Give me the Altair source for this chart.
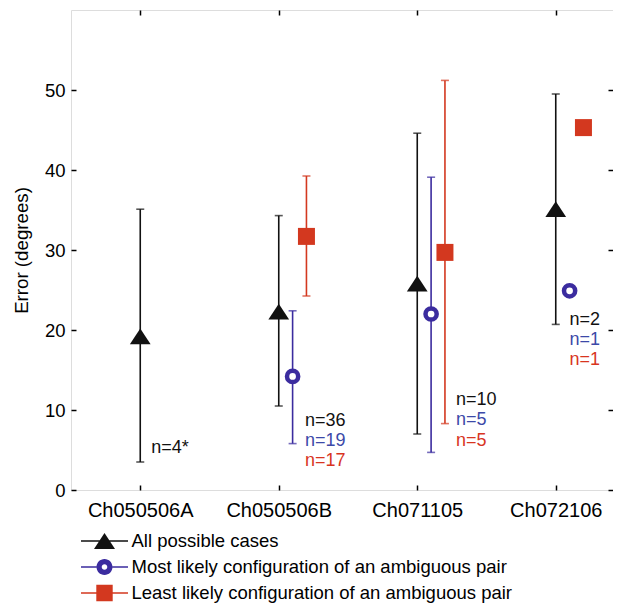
import json
import altair as alt
import pandas as pd

# ---------------- data ----------------
categories = ["Ch050506A", "Ch050506B", "Ch071105", "Ch072106"]
series_names = [
    "All possible cases",
    "Most likely configuration of an ambiguous pair",
    "Least likely configuration of an ambiguous pair",
]

all_mean = [19.2, 22.3, 25.8, 35.1]
all_low = [3.5, 10.5, 7.0, 20.7]
all_high = [35.1, 34.3, 44.6, 49.5]
all_n = ["n=4*", "n=36", "n=10", "n=2"]

most_mean = [None, 14.2, 22.0, 24.9]
most_low = [None, 5.8, 4.7, None]
most_high = [None, 22.4, 39.1, None]
most_n = [None, "n=19", "n=5", "n=1"]

least_mean = [None, 31.7, 29.7, 45.3]
least_low = [None, 24.25, 8.3, None]
least_high = [None, 39.25, 51.2, None]
least_n = [None, "n=17", "n=5", "n=1"]

# annotation anchors (data units) for the n= labels
label_x = [1.08, 2.19, 3.28, 4.10]
label_y = [5.25, 8.66, 11.25, 21.3]

y_ticks = [0, 10, 20, 30, 40, 50]

# ---------------- styling ----------------
FONT = "Liberation Sans"
BLACK = "#111111"
BLUE = "#3b2c9f"
BLUE_TXT = "#3c49a8"
RED = "#d3381f"
RED_TXT = "#d8351f"
colors = [BLACK, BLUE, RED]
text_colors = ["#111111", BLUE_TXT, RED_TXT]
x_offsets = [0.0, 0.1, 0.2]

means = [all_mean, most_mean, least_mean]
lows = [all_low, most_low, least_low]
highs = [all_high, most_high, least_high]
ns = [all_n, most_n, least_n]

rows = []
for s, name in enumerate(series_names):
    for i, c in enumerate(categories):
        rows.append({
            "series": name, "sidx": s, "category": c,
            "x": i + 1 + x_offsets[s],
            "mean": means[s][i], "low": lows[s][i], "high": highs[s][i],
            "n": ns[s][i], "lx": label_x[i], "ly": label_y[i],
        })
df = pd.DataFrame(rows)

W = 542
xdom = [0.5, 0.5 + W / 138.5]
xscale = alt.Scale(domain=xdom, nice=False, zero=False)
yscale = alt.Scale(domain=[0, 60], nice=False, zero=False)

label_expr = "%s[datum.value - 1]" % json.dumps(categories)

axis_left = alt.Axis(values=y_ticks, offset=-5, tickSize=5, tickWidth=1.5, tickColor="black",
                     domain=False, grid=False, labelFontSize=18.5, labelPadding=6,
                     labelColor="black", labelFont=FONT,
                     title="Error (degrees)", titleFontSize=18.7, titleFontWeight="normal",
                     titleFont=FONT, titleColor="black", titlePadding=13)
axis_bottom = alt.Axis(values=[1, 2, 3, 4], labelExpr=label_expr, offset=-5, tickSize=5,
                       tickWidth=1.5, tickColor="black", domain=False, grid=False,
                       labelFontSize=20, labelPadding=10, labelColor="black", labelFont=FONT,
                       title=None)
axis_top = alt.Axis(orient="top", values=[1, 2, 3, 4], labels=False, offset=-5, tickSize=5,
                    tickWidth=1.5, tickColor="black", domain=False, grid=False, title=None)
axis_right = alt.Axis(orient="right", values=y_ticks, labels=False, offset=-5, tickSize=5,
                      tickWidth=1.5, tickColor="black", domain=False, grid=False, title=None)

base = alt.Chart(df)
layers = []

for s in range(3):
    d = base.transform_filter(alt.datum.sidx == s).transform_filter("isValid(datum.low)")
    if s == 0:
        xenc = alt.X("x:Q", scale=xscale, axis=axis_bottom)
        yenc = alt.Y("low:Q", scale=yscale, axis=axis_left)
    elif s == 1:
        xenc = alt.X("x:Q", scale=xscale, axis=axis_top)
        yenc = alt.Y("low:Q", scale=yscale, axis=axis_right)
    else:
        xenc = alt.X("x:Q", scale=xscale, axis=None)
        yenc = alt.Y("low:Q", scale=yscale, axis=None)
    layers.append(d.mark_rule(color=colors[s], strokeWidth=1.6).encode(
        x=xenc, y=yenc, y2="high:Q"))
    for fld in ["low", "high"]:
        layers.append(d.mark_tick(orient="horizontal", color=colors[s], size=8,
                                  thickness=1.6).encode(
            x=alt.X("x:Q", scale=xscale, axis=None),
            y=alt.Y(f"{fld}:Q", scale=yscale, axis=None)))

marker_data = [base.transform_filter(alt.datum.sidx == s).transform_filter("isValid(datum.mean)")
               for s in range(3)]
xe = alt.X("x:Q", scale=xscale, axis=None)
ye = alt.Y("mean:Q", scale=yscale, axis=None)
layers.append(marker_data[0].mark_point(shape="M0,-0.76L1,0.76L-1,0.76Z", filled=True,
                                        color=BLACK, size=430, opacity=1).encode(x=xe, y=ye))
layers.append(marker_data[1].mark_point(shape="circle", filled=False, fill="white",
                                        stroke=BLUE, strokeWidth=4.5, size=125,
                                        opacity=1).encode(x=xe, y=ye))
layers.append(marker_data[2].mark_point(shape="square", filled=True, color=RED, size=289,
                                        opacity=1).encode(x=xe, y=ye))

for s in range(3):
    t = base.transform_filter(alt.datum.sidx == s).transform_filter("isValid(datum.n)")
    layers.append(t.mark_text(align="left", baseline="middle", fontSize=18, font=FONT,
                              color=text_colors[s], dy=20.3 * s).encode(
        x=alt.X("lx:Q", scale=xscale, axis=None),
        y=alt.Y("ly:Q", scale=yscale, axis=None),
        text="n:N"))

# legend layer (invisible points, legend symbols drawn from custom paths)
leg_tri = "M-2.35,-0.075H2.35V0.075H-2.35Z M0,-0.8L1.05,0.8L-1.05,0.8Z"
leg_circ = ("M-2.35,-0.075H-0.8V0.075H-2.35Z M0.8,-0.075H2.35V0.075H0.8Z "
            "M0.8,0A0.8,0.8 0 1,1 -0.8,0A0.8,0.8 0 1,1 0.8,0Z "
            "M0.28,0A0.28,0.28 0 1,0 -0.28,0A0.28,0.28 0 1,0 0.28,0Z")
leg_sq = "M-2.35,-0.075H2.35V0.075H-2.35Z M-0.82,-0.82H0.82V0.82H-0.82Z"

legend = alt.Legend(orient="none", legendX=23.5, legendY=521, title=None,
                    symbolSize=400, symbolStrokeWidth=0, symbolOpacity=1,
                    labelFontSize=18.5, labelFont=FONT, labelColor="black",
                    labelOffset=17, rowPadding=6, labelLimit=700, padding=0,
                    direction="vertical")
layers.append(base.transform_filter("isValid(datum.mean)").mark_point(
    filled=True, opacity=0).encode(
    x=xe, y=ye,
    color=alt.Color("series:N", scale=alt.Scale(domain=series_names, range=colors),
                    legend=legend),
    shape=alt.Shape("series:N", scale=alt.Scale(domain=series_names,
                                                range=[leg_tri, leg_circ, leg_sq]),
                    legend=legend)))

chart = alt.layer(*layers).resolve_axis(x="independent", y="independent").properties(
    width=W, height=480,
    autosize=alt.AutoSizeParams(type="none"),
    padding={"left": 63, "top": 2, "right": 0, "bottom": 115},
).configure_view(stroke="black", strokeWidth=2).configure(font=FONT)

chart.save("out.html", embed_options={"renderer": "svg", "actions": False})
